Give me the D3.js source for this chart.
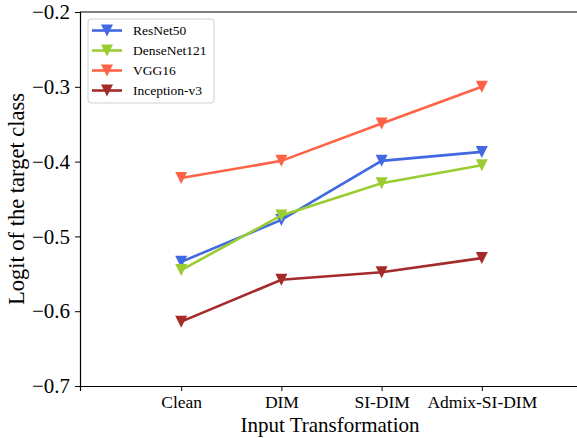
<!DOCTYPE html>
<html>
<head>
<meta charset="utf-8">
<script src="https://cdn.jsdelivr.net/npm/d3@7"></script>
<style>
  body { margin: 0; background: #fff; }
  text { font-family: "Liberation Serif", "Times New Roman", serif; }
</style>
</head>
<body>
<div id="my_plot"></div>
<script>
var width = 577, height = 438;

var transforms = ["Clean", "DIM", "SI-DIM", "Admix-SI-DIM"];
var models = ["ResNet50", "DenseNet121", "VGG16", "Inception-v3"];
var colors = ["#4169e1", "#9acd32", "#ff6347", "#a52a2a"];
var yTicks = [-0.7, -0.6, -0.5, -0.4, -0.3, -0.2];

var resnet50 = [-0.534, -0.478, -0.399, -0.387];
var densenet121 = [-0.545, -0.472, -0.429, -0.405];
var vgg16 = [-0.422, -0.399, -0.349, -0.300];
var inceptionV3 = [-0.614, -0.558, -0.548, -0.529];
var series = [resnet50, densenet121, vgg16, inceptionV3];

var svg = d3.select("#my_plot")
  .append("svg")
    .attr("width", width)
    .attr("height", height);

var plotLeft = 80, plotTop = 12, plotBottom = 386;

var x = d3.scaleLinear()
  .domain([-1.01, 3.97])
  .range([plotLeft, 579]);

var y = d3.scaleLinear()
  .domain([-0.7, -0.2])
  .range([plotBottom, plotTop]);

// axes
var fmt = function(d) { return d3.format(".1f")(d).replace("-", "\u2212"); };

var gy = svg.append("g")
  .attr("transform", "translate(" + plotLeft + ",0)")
  .call(d3.axisLeft(y).tickValues(yTicks).tickFormat(fmt).tickSize(5).tickPadding(5));
gy.selectAll("text").style("font-size", "21px").style("font-family", "Liberation Serif").attr("fill", "#000");

var gx = svg.append("g")
  .attr("transform", "translate(0," + plotBottom + ")")
  .call(d3.axisBottom(x).tickValues(d3.range(transforms.length))
    .tickFormat(function(i) { return transforms[i]; }).tickSize(5).tickPadding(5));
gx.selectAll("text").style("font-size", "17.5px").style("font-family", "Liberation Serif").attr("fill", "#000");

[gx, gy].forEach(function(g) {
  g.select(".domain").attr("stroke", "#000").attr("stroke-width", 1.2);
  g.selectAll(".tick line").attr("stroke", "#000").attr("stroke-width", 1);
});

// top spine
svg.append("line")
  .attr("x1", plotLeft).attr("x2", 579)
  .attr("y1", plotTop).attr("y2", plotTop)
  .attr("stroke", "#000").attr("stroke-width", 1.2);

// axis titles
svg.append("text")
  .attr("text-anchor", "middle")
  .attr("x", 330)
  .attr("y", 432)
  .style("font-size", "21px")
  .text("Input Transformation");

svg.append("text")
  .attr("text-anchor", "middle")
  .attr("transform", "translate(24," + ((plotTop + plotBottom) / 2) + ") rotate(-90)")
  .style("font-size", "22.5px")
  .text("Logit of the target class");

// triangle down marker
var tri = function(cx, cy, s) {
  return "M" + (cx - s) + "," + (cy - s) + "L" + (cx + s) + "," + (cy - s) + "L" + cx + "," + (cy + s) + "Z";
};

var line = d3.line()
  .x(function(d, i) { return x(i); })
  .y(function(d) { return y(d); });

series.forEach(function(vals, k) {
  var g = svg.append("g");
  g.append("path")
    .datum(vals)
    .attr("d", line)
    .attr("fill", "none")
    .attr("stroke", colors[k])
    .attr("stroke-width", 2.6);
  g.selectAll("path.m")
    .data(vals)
    .enter()
    .append("path")
      .attr("class", "m")
      .attr("d", function(d, i) { return tri(x(i), y(d), 6); })
      .attr("fill", colors[k]);
});

// legend
var legend = svg.append("g");
legend.append("rect")
  .attr("x", 88).attr("y", 19)
  .attr("width", 126).attr("height", 84)
  .attr("rx", 3)
  .attr("fill", "#fff").attr("fill-opacity", 0.8)
  .attr("stroke", "#d0d0d0");

models.forEach(function(m, k) {
  var ly = 30.5 + k * 20;
  legend.append("line")
    .attr("x1", 92).attr("x2", 122)
    .attr("y1", ly).attr("y2", ly)
    .attr("stroke", colors[k]).attr("stroke-width", 2.6);
  legend.append("path")
    .attr("d", tri(107, ly, 6))
    .attr("fill", colors[k]);
  legend.append("text")
    .attr("x", 133)
    .attr("y", ly + 4.5)
    .style("font-size", "13.5px")
    .text(m);
});
</script>
</body>
</html>
